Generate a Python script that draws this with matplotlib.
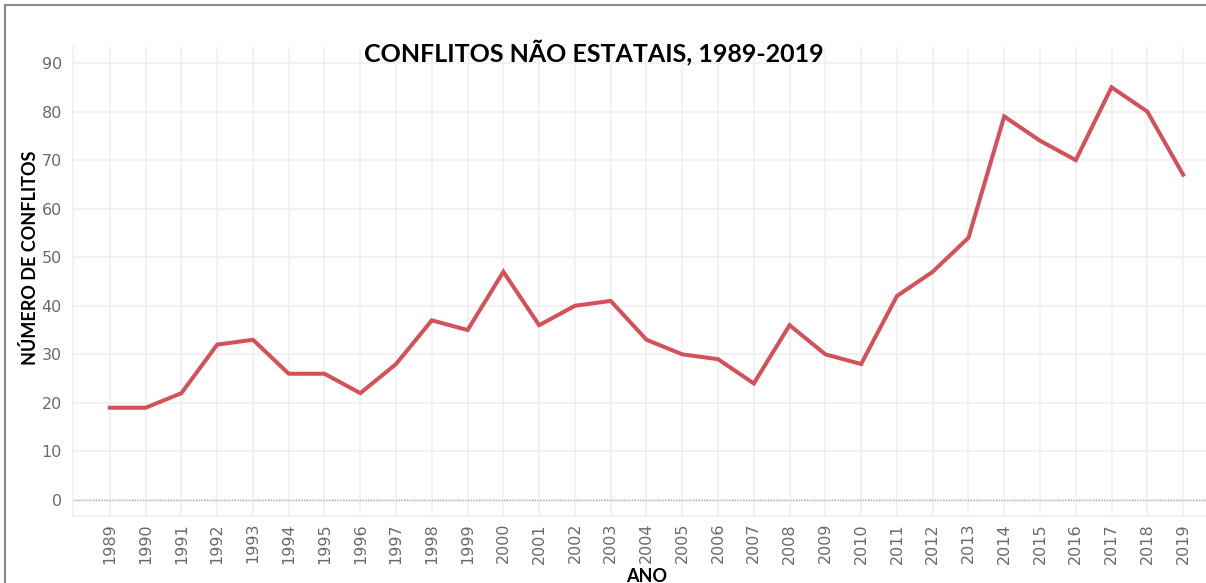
import matplotlib
matplotlib.use('Agg')
import matplotlib.pyplot as plt
from matplotlib.lines import Line2D

YEARS = list(range(1989, 2020))
CONFLICTS = [19, 19, 22, 32, 33, 26, 26, 22, 28, 37, 35, 47, 36, 40, 41,
             33, 30, 29, 24, 36, 30, 28, 42, 47, 54, 79, 74, 70, 85, 80, 67]
Y_TICKS = list(range(0, 100, 10))

TITLE = 'CONFLITOS NÃO ESTATAIS, 1989-2019'
X_LABEL = 'ANO'
Y_LABEL = 'NÚMERO DE CONFLITOS'

LINE_COLOR = '#d4505a'
GRID_COLOR = '#f0f0f0'
TICK_COLOR = '#6a6a6a'

W, H = 1206, 583
fig = plt.figure(figsize=(W / 100, H / 100), dpi=100)
ax = fig.add_axes([73 / W, 67 / H, 1133 / W, 469 / H])

ax.plot(YEARS, CONFLICTS, color=LINE_COLOR, linewidth=2.9,
        solid_joinstyle='miter', zorder=3)
ax.axhline(0, color='#b0b0b0', linewidth=1, linestyle=(0, (1, 1)), zorder=2)

ax.set_xlim(1987.97, 2019.64)
ax.set_ylim(-3.3, 93.3)
tick_font = {'family': 'DejaVu Sans', 'size': 11.5, 'color': TICK_COLOR}
ax.set_xticks(YEARS)
ax.set_xticklabels([str(y) for y in YEARS], rotation=90, fontdict=tick_font)
ax.set_yticks(Y_TICKS)
ax.set_yticklabels([str(v) for v in Y_TICKS], fontdict=tick_font)

ax.grid(True, color=GRID_COLOR, linewidth=1.2, zorder=0)
ax.tick_params(length=0)
ax.tick_params(axis='y', pad=8)
ax.tick_params(axis='x', pad=5)

for side in ['top', 'right']:
    ax.spines[side].set_visible(False)
for side in ['left', 'bottom']:
    ax.spines[side].set_color(GRID_COLOR)
    ax.spines[side].set_linewidth(1.2)

fig.text(594 / W, 1 - 52 / H, TITLE, ha='center', va='center',
         fontsize=18, fontweight='bold', family='Lato', color='black')
fig.text(30 / W, 1 - 258 / H, Y_LABEL, ha='center', va='center',
         rotation=90, fontsize=13, fontweight='bold', family='Lato')
fig.text(647 / W, 1 - 576 / H, X_LABEL, ha='center', va='center',
         fontsize=13, fontweight='bold', family='Lato')

# outer frame (top and left edges visible in the reference)
fig.add_artist(Line2D([5 / W, 1], [1 - 5 / H, 1 - 5 / H],
                      transform=fig.transFigure, color='#8a8a8a', linewidth=1.5))
fig.add_artist(Line2D([5 / W, 5 / W], [0, 1 - 5 / H],
                      transform=fig.transFigure, color='#8a8a8a', linewidth=1.5))

fig.savefig('out.png', dpi=100)
